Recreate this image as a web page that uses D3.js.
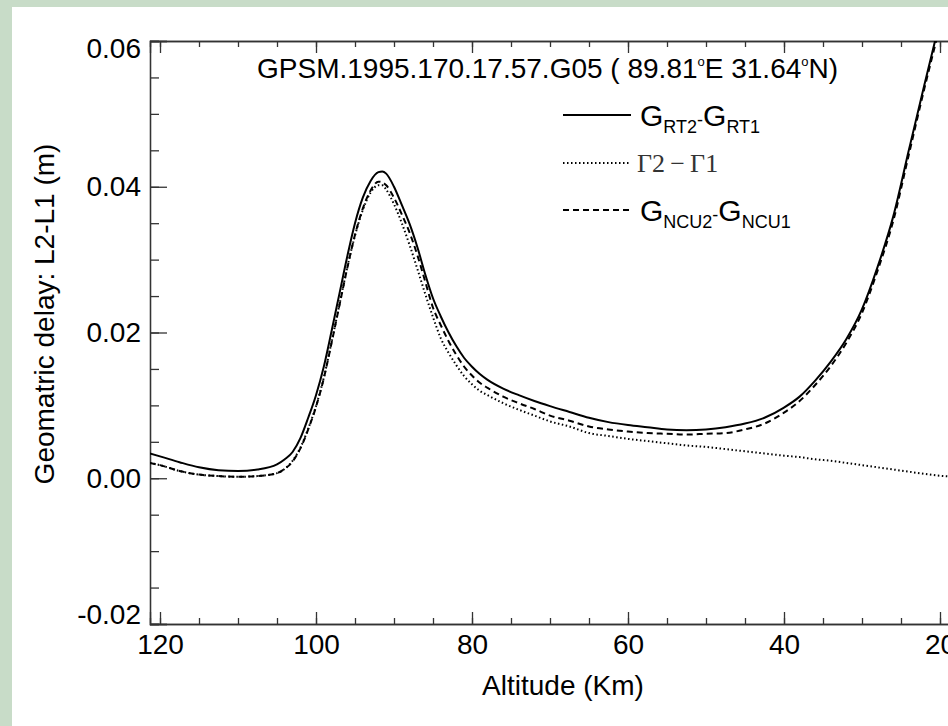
<!DOCTYPE html>
<html>
<head>
    <meta charset="utf-8">
    <title>Geometric delay L2-L1</title>
    <script src="https://d3js.org/d3.v7.min.js"></script>
    <style>
        html, body { margin: 0; padding: 0; background: #c8dcc8; overflow: hidden; }
        svg { display: block; }
        text { font-family: "Liberation Sans", Arial, Helvetica, sans-serif; fill: #000; }
        text.serif { font-family: "Liberation Serif", "DejaVu Serif", serif; fill: #333; }
    </style>
</head>
<body>
    <svg id="chart" width="948" height="726"></svg>

    <script>
        // altitude grid (km)
        const altitude = [121.3, 120, 117.5, 115, 112.5, 110, 107.5, 105, 104, 103, 102, 101, 100,
            99, 98, 97, 96, 95, 94, 93, 92, 91.5, 91, 90, 89, 88, 87, 86, 85, 84, 83, 82, 81, 80,
            79, 78, 76, 74, 72, 70, 67.5, 65, 62.5, 60, 57.5, 55, 52.5, 50, 47.5, 45, 42.5, 40,
            38, 36, 34, 32, 30, 28, 26, 24, 22, 20.5, 19.5, 18];

        // G_RT2 - G_RT1 (solid)
        const gRT = [0.0034, 0.0030, 0.0022, 0.0015, 0.0011, 0.0010, 0.0012, 0.0019, 0.0026, 0.0036,
            0.0055, 0.0083, 0.0114, 0.0153, 0.0202, 0.0253, 0.0304, 0.0350, 0.0385, 0.0408, 0.0420,
            0.0421, 0.0418, 0.0400, 0.0375, 0.0349, 0.0317, 0.0280, 0.0247, 0.0222, 0.0200, 0.0181,
            0.0165, 0.0153, 0.0143, 0.0135, 0.0123, 0.0114, 0.0106, 0.0099, 0.0091, 0.0083, 0.0077,
            0.0073, 0.0070, 0.0067, 0.0066, 0.0067, 0.0070, 0.0075, 0.0083, 0.0097, 0.0112, 0.0134,
            0.0160, 0.0191, 0.0232, 0.0290, 0.0359, 0.0450, 0.0540, 0.0606, 0.0650, 0.0720];

        // Gamma2 - Gamma1 (dotted)
        const gamma = [0.0021, 0.0018, 0.0010, 0.0005, 0.0003, 0.0002, 0.0003, 0.0007, 0.0013, 0.0024,
            0.0042, 0.0068, 0.0099, 0.0138, 0.0187, 0.0238, 0.0289, 0.0333, 0.0368, 0.0392, 0.0402,
            0.0402, 0.0396, 0.0376, 0.0350, 0.0320, 0.0287, 0.0253, 0.0221, 0.0192, 0.0172, 0.0155,
            0.0140, 0.0129, 0.0120, 0.0114, 0.0103, 0.0094, 0.0086, 0.0078, 0.0071, 0.0062, 0.0058,
            0.0054, 0.0051, 0.0048, 0.0045, 0.0043, 0.0040, 0.0037, 0.0034, 0.0031, 0.0029, 0.0026,
            0.0024, 0.0021, 0.0018, 0.0015, 0.0012, 0.0009, 0.0006, 0.0004, 0.0003, 0.0002];

        // G_NCU2 - G_NCU1 (dashed)
        const gNCU = [0.0021, 0.0018, 0.0010, 0.0005, 0.0003, 0.0002, 0.0003, 0.0007, 0.0013, 0.0023,
            0.0041, 0.0067, 0.0098, 0.0137, 0.0186, 0.0237, 0.0288, 0.0334, 0.0370, 0.0395, 0.0407,
            0.0406, 0.0402, 0.0385, 0.0362, 0.0337, 0.0306, 0.0270, 0.0234, 0.0210, 0.0188, 0.0169,
            0.0153, 0.0141, 0.0131, 0.0124, 0.0112, 0.0103, 0.0095, 0.0086, 0.0079, 0.0071, 0.0067,
            0.0064, 0.0062, 0.0061, 0.0060, 0.0061, 0.0062, 0.0067, 0.0075, 0.0090, 0.0106, 0.0128,
            0.0154, 0.0186, 0.0227, 0.0285, 0.0353, 0.0444, 0.0535, 0.0600, 0.0645, 0.0715];

        const xMajor = [120, 100, 80, 60, 40, 20];
        const xMinor = d3.range(120, 15, -5);
        const yMajor = [-0.02, 0.00, 0.02, 0.04, 0.06];
        const yMinor = d3.range(-0.02, 0.0601, 0.005);

        const titleMain = "GPSM.1995.170.17.57.G05 ( 89.81";
        const legendItems = [
            { name: "RT", values: gRT, dash: null },
            { name: "Gamma", values: gamma, dash: "1.5,2.5" },
            { name: "NCU", values: gNCU, dash: "6,4" }
        ];

        const svg = d3.select("#chart");
        const mLeft = 150, mRight = 960, mTop = 41, mBottom = 624;
        const fs = 28;

        // white page inside the green frame
        svg.append("rect").attr("x", 12).attr("y", 7).attr("width", 948).attr("height", 730)
            .attr("fill", "#fff");

        const x = d3.scaleLinear()
            .domain([120 + (160 - mLeft) / 7.8, 120 - (mRight - 160) / 7.8])
            .range([mLeft, mRight]);
        const y = d3.scaleLinear().domain([-0.02, 0.06]).range([mBottom, mTop]);

        const fmt = d => d3.format(".2f")(d).replace("\u2212", "-");
        const axisColor = "#333";

        function styleAxis(g) {
            g.select(".domain").attr("stroke", axisColor).attr("stroke-width", 1.3);
            g.selectAll(".tick line").attr("stroke", axisColor).attr("stroke-width", 1.3);
            g.selectAll("text").style("font-size", fs + "px").attr("fill", "#000");
        }

        // bottom axis
        svg.append("g").attr("transform", `translate(0,${mBottom})`)
            .call(d3.axisBottom(x).tickValues(xMinor).tickSize(-6).tickFormat(""))
            .call(styleAxis);
        svg.append("g").attr("transform", `translate(0,${mBottom})`)
            .call(d3.axisBottom(x).tickValues(xMajor).tickSize(-12).tickFormat(d3.format("d")))
            .call(styleAxis)
            .call(g => g.selectAll("text").attr("dy", "0.78em").attr("y", 8));

        // top axis
        svg.append("g").attr("transform", `translate(0,${mTop})`)
            .call(d3.axisTop(x).tickValues(xMinor).tickSize(-6).tickFormat(""))
            .call(styleAxis);
        svg.append("g").attr("transform", `translate(0,${mTop})`)
            .call(d3.axisTop(x).tickValues(xMajor).tickSize(-12).tickFormat(""))
            .call(styleAxis);

        // left axis; end labels are kept inside the axis span
        svg.append("g").attr("transform", `translate(${mLeft},0)`)
            .call(d3.axisLeft(y).tickValues(yMinor).tickSize(-9).tickFormat(""))
            .call(styleAxis);
        svg.append("g").attr("transform", `translate(${mLeft},0)`)
            .call(d3.axisLeft(y).tickValues(yMajor).tickSize(-17).tickFormat(fmt))
            .call(styleAxis)
            .call(g => g.selectAll("text").attr("x", -9)
                .attr("y", d => d === 0.06 ? 8 : d === -0.02 ? -9 : 0));

        // axis titles
        svg.append("text").attr("x", 563).attr("y", 695).attr("text-anchor", "middle")
            .style("font-size", fs + "px").text("Altitude (Km)");
        svg.append("text").attr("transform", "translate(54,314) rotate(-90)")
            .attr("text-anchor", "middle").style("font-size", fs + "px")
            .text("Geomatric delay: L2-L1 (m)");

        // title with degree marks
        const title = svg.append("text").attr("x", 257).attr("y", 78).style("font-size", fs + "px");
        title.append("tspan").text(titleMain);
        title.append("tspan").style("font-size", "13px").attr("dy", -12).text("o");
        title.append("tspan").attr("dy", 12).text("E 31.64");
        title.append("tspan").style("font-size", "13px").attr("dy", -12).text("o");
        title.append("tspan").attr("dy", 12).text("N)");

        // curves
        svg.append("clipPath").attr("id", "plot-clip").append("rect")
            .attr("x", mLeft).attr("y", mTop).attr("width", mRight - mLeft).attr("height", mBottom - mTop);

        const line = d3.line().x(d => x(d[0])).y(d => y(d[1])).curve(d3.curveMonotoneX);
        const plot = svg.append("g").attr("clip-path", "url(#plot-clip)");
        legendItems.forEach(s => {
            plot.append("path")
                .datum(altitude.map((a, i) => [a, s.values[i]]))
                .attr("fill", "none").attr("stroke", "#000").attr("stroke-width", 2)
                .attr("stroke-dasharray", s.dash)
                .attr("d", line);
        });

        // legend
        const legY = [115, 163, 210];
        legendItems.forEach((s, i) => {
            svg.append("line").attr("x1", 563).attr("x2", 631).attr("y1", legY[i]).attr("y2", legY[i])
                .attr("stroke", "#000").attr("stroke-width", 2).attr("stroke-dasharray", s.dash);
        });
        function subLabel(yy, sub1, sub2) {
            const t = svg.append("text").attr("x", 640).attr("y", yy + 11).style("font-size", "30px");
            t.append("tspan").text("G");
            t.append("tspan").style("font-size", "18px").attr("dy", 7).text(sub1);
            t.append("tspan").style("font-size", "18px").attr("dy", -7).text("-");
            t.append("tspan").text("G");
            t.append("tspan").style("font-size", "18px").attr("dy", 7).text(sub2);
        }
        subLabel(legY[0], "RT2", "RT1");
        svg.append("text").attr("class", "serif").attr("x", 637).attr("y", legY[1] + 9)
            .style("font-size", "26px")
            .text("\u03932\u2009\u2212\u2009\u03931");
        subLabel(legY[2], "NCU2", "NCU1");
    </script>
</body>
</html>
